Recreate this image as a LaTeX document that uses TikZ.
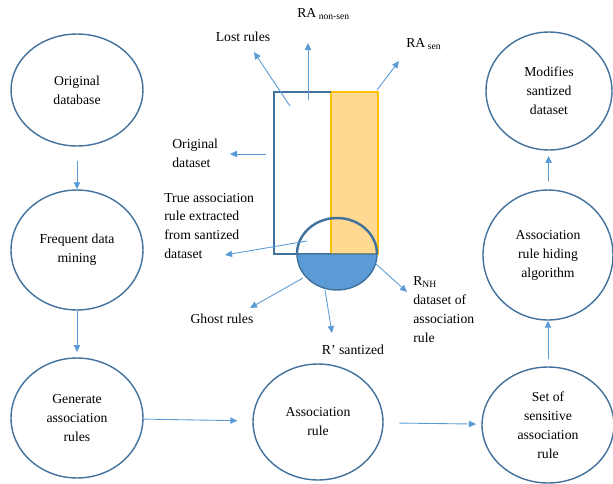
\documentclass[tikz,border=0pt]{standalone}
\usepackage{fontspec}
\setmainfont{Liberation Serif}
\usetikzlibrary{positioning,shapes.geometric,arrows.meta}
\definecolor{edgeblue}{HTML}{41719C}
\definecolor{lineblue}{HTML}{5B9BD5}
\definecolor{softorange}{HTML}{FFD891}
\definecolor{goldline}{HTML}{FFC000}

\begin{document}
\begin{tikzpicture}[x=0.02cm, y=-0.02cm,
    font=\fontsize{7.8}{10.8}\selectfont,
    stage/.style={ellipse, draw=edgeblue, line width=0.8pt, align=center, inner sep=0pt, minimum width=2.64cm, minimum height=2.32cm},
    flow/.style={draw=lineblue, line width=0.5pt, -{Triangle[length=4pt,width=3.6pt]}},
    note/.style={align=left, inner sep=0pt}]
    \useasboundingbox (0,0) rectangle (613,484);

    % Define process stages (left column, bottom row, right column)
    \node[stage, minimum height=2.24cm] (OrigDB) at (77, 90) {Original\\database};
    \node[stage, minimum height=2.4cm] (FreqMining) at (77, 250) {Frequent data\\mining};
    \node[stage, minimum height=2.4cm] (GenRules) at (77, 418) {Generate\\association\\rules};
    \node[stage, minimum width=2.6cm] (AssocRule) at (318, 422) {Association\\rule};
    \node[stage] (SensRule) at (548, 425) {Set of\\sensitive\\association\\rule};
    \node[stage, minimum width=2.6cm, minimum height=2.6cm] (HidingAlgo) at (548, 255) {Association\\rule hiding\\algorithm};
    \node[stage, minimum width=2.52cm, minimum height=2.36cm] (ModDataset) at (549, 91) {Modifies\\santized\\dataset};

    % Draw flow between stages
    \draw[flow, shorten <=8pt] (OrigDB) -- (FreqMining);
    \draw[flow, shorten >=3pt] (FreqMining) -- (GenRules);
    \draw[flow, shorten >=8.5pt] (GenRules) -- (AssocRule);
    \draw[flow, shorten <=9pt, shorten >=3pt] (AssocRule) -- (SensRule);
    \draw[flow, shorten <=4pt] (SensRule) -- (HidingAlgo);
    \draw[flow, shorten <=4.5pt, shorten >=3pt] (HidingAlgo) -- (ModDataset);

    % Central picture of the datasets
    \coordinate (cup) at (337, 254);
    \draw[draw=goldline, fill=softorange, line width=0.6pt] (331, 92) rectangle (378, 254);
    \draw[draw=edgeblue, line width=0.8pt] (331, 92) -- (274, 92) -- (274, 254) -- (331, 254);
    \draw[draw=edgeblue, fill=lineblue, line width=0.8pt] ([xshift=-0.8cm]cup) arc[start angle=180, end angle=360, x radius=0.8cm, y radius=0.72cm] -- cycle;
    \draw[draw=edgeblue, line width=1.4pt] ([xshift=-0.8cm]cup) arc[start angle=180, end angle=0, x radius=0.8cm, y radius=0.72cm];

    % Pointers from the picture to its labels
    \coordinate (lostFrom) at (290, 106);   \coordinate (lostTo) at (254, 52);
    \coordinate (nonsenFrom) at (308, 100); \coordinate (nonsenTo) at (308, 43);
    \coordinate (senFrom) at (377, 90);     \coordinate (senTo) at (399, 61);
    \coordinate (origFrom) at (266, 154);   \coordinate (origTo) at (230, 154);
    \coordinate (trueFrom) at (307, 241);   \coordinate (trueTo) at (225, 255);
    \coordinate (ghostFrom) at (303, 278);  \coordinate (ghostTo) at (250, 308);
    \coordinate (sanFrom) at (325, 290);    \coordinate (sanTo) at (332, 333);
    \coordinate (nhFrom) at (376, 264);     \coordinate (nhTo) at (407, 292);
    \foreach \a/\b in {lostFrom/lostTo, nonsenFrom/nonsenTo, senFrom/senTo, origFrom/origTo,
                       trueFrom/trueTo, ghostFrom/ghostTo, sanFrom/sanTo, nhFrom/nhTo}
        \draw[flow] (\a) -- (\b);

    \node (LostRules) at (243, 37) {Lost rules};
    \node[anchor=west, inner sep=0pt] (RANonSen) at (297, 14) {RA\textsubscript{ non-sen}};
    \node[anchor=west, inner sep=0pt] (RASen) at (406, 44) {RA\textsubscript{ sen}};
    \node[note, anchor=west] (OrigData) at (172, 153) {Original\\dataset};
    \node[note, anchor=west] (TrueRule) at (164, 226) {True association\\rule extracted\\from santized\\dataset};
    \node (GhostRules) at (222, 319) {Ghost rules};
    \node (RSantized) at (353, 350) {R’ santized};
    \node[note, anchor=west] (RNH) at (413, 310) {R\textsubscript{NH}\\dataset of\\association\\rule};
\end{tikzpicture}
\end{document}
